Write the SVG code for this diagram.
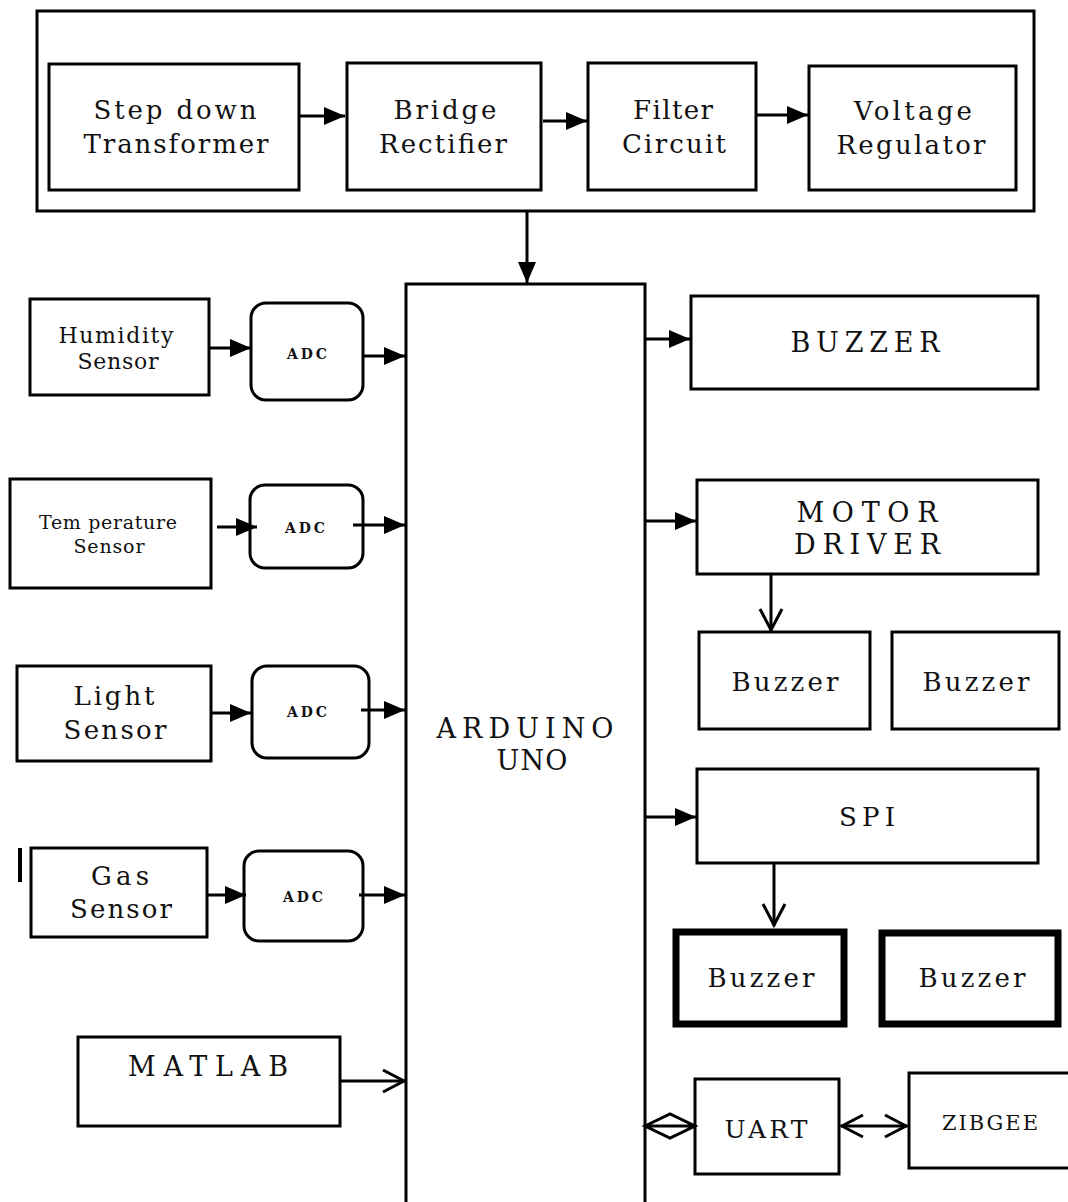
<svg xmlns="http://www.w3.org/2000/svg" width="1068" height="1202" viewBox="0 0 1068 1202">
<style>
.box{fill:#fff;stroke:#000;stroke-width:3}
.thick{fill:#fff;stroke:#000;stroke-width:7}
.t{font-family:"DejaVu Serif","Liberation Serif",serif;fill:#111;text-anchor:middle}
.adc{font-family:"DejaVu Serif","Liberation Serif",serif;font-weight:bold;font-size:14px;fill:#111;text-anchor:middle}
.ln{stroke:#000;stroke-width:3;fill:none}
</style>
<defs>
<marker id="tri" markerUnits="userSpaceOnUse" markerWidth="22" markerHeight="20" refX="21" refY="9" orient="auto"><path d="M0,0 L21,9 L0,18 z" fill="#000"/></marker>
<marker id="open" markerUnits="userSpaceOnUse" markerWidth="30" markerHeight="30" refX="24" refY="13" orient="auto-start-reverse"><path d="M2,2 L23,13 L2,24" fill="none" stroke="#000" stroke-width="3"/></marker>
</defs>

<g id="power-supply"><rect class="box" x="37" y="11" width="997" height="200"/></g>
<g id="step-down"><rect class="box" x="49" y="64" width="250" height="126"/><text class="t" font-size="26" x="175" y="119" textLength="163" lengthAdjust="spacing">Step down</text><text class="t" font-size="26" x="176" y="153" textLength="185" lengthAdjust="spacing">Transformer</text></g>
<g id="bridge"><rect class="box" x="347" y="63" width="194" height="127"/><text class="t" font-size="26" x="445" y="119" textLength="103" lengthAdjust="spacing">Bridge</text><text class="t" font-size="26" x="443" y="153" textLength="128" lengthAdjust="spacing">Rectifier</text></g>
<g id="filter"><rect class="box" x="588" y="63" width="168" height="127"/><text class="t" font-size="26" x="673" y="119" textLength="80" lengthAdjust="spacing">Filter</text><text class="t" font-size="26" x="674" y="153" textLength="104" lengthAdjust="spacing">Circuit</text></g>
<g id="regulator"><rect class="box" x="809" y="66" width="207" height="124"/><text class="t" font-size="26" x="913" y="120" textLength="118" lengthAdjust="spacing">Voltage</text><text class="t" font-size="26" x="911" y="154" textLength="149" lengthAdjust="spacing">Regulator</text></g>

<g id="arduino"><rect class="box" x="406" y="284" width="239" height="940"/><text class="t" font-size="27" x="525" y="738" textLength="177" lengthAdjust="spacing">ARDUINO</text><text class="t" font-size="27" x="532" y="770" textLength="71" lengthAdjust="spacing">UNO</text></g>

<g id="humidity"><rect class="box" x="30" y="299" width="179" height="96"/><text class="t" font-size="22" x="116" y="343" textLength="115" lengthAdjust="spacing">Humidity</text><text class="t" font-size="22" x="118" y="369" textLength="81" lengthAdjust="spacing">Sensor</text></g>
<g id="adc1"><rect class="box" x="251" y="303" width="112" height="97" rx="15"/><text class="adc" x="307" y="359" textLength="40" lengthAdjust="spacing">ADC</text></g>
<g id="temperature"><rect class="box" x="10" y="479" width="201" height="109"/><text class="t" font-size="19" x="108" y="529" textLength="138" lengthAdjust="spacing">Tem perature</text><text class="t" font-size="19" x="109" y="553" textLength="71" lengthAdjust="spacing">Sensor</text></g>
<g id="adc2"><rect class="box" x="250" y="485" width="113" height="83" rx="15"/><text class="adc" x="305" y="533" textLength="40" lengthAdjust="spacing">ADC</text></g>
<g id="light"><rect class="box" x="17" y="666" width="194" height="95"/><text class="t" font-size="26" x="114" y="705" textLength="81" lengthAdjust="spacing">Light</text><text class="t" font-size="26" x="115" y="739" textLength="103" lengthAdjust="spacing">Sensor</text></g>
<g id="adc3"><rect class="box" x="252" y="666" width="117" height="92" rx="15"/><text class="adc" x="307" y="717" textLength="40" lengthAdjust="spacing">ADC</text></g>
<g id="gas"><rect class="box" x="31" y="848" width="176" height="89"/><text class="t" font-size="26" x="120" y="885" textLength="58" lengthAdjust="spacing">Gas</text><text class="t" font-size="26" x="121" y="918" textLength="102" lengthAdjust="spacing">Sensor</text><line x1="20" y1="848" x2="20" y2="882" stroke="#000" stroke-width="4"/></g>
<g id="adc4"><rect class="box" x="244" y="851" width="119" height="90" rx="15"/><text class="adc" x="303" y="902" textLength="40" lengthAdjust="spacing">ADC</text></g>
<g id="matlab"><rect class="box" x="78" y="1037" width="262" height="89"/><text class="t" font-size="27" x="208" y="1076" textLength="160" lengthAdjust="spacing">MATLAB</text></g>

<g id="buzzer-main"><rect class="box" x="691" y="296" width="347" height="93"/><text class="t" font-size="27" x="865" y="352" textLength="149" lengthAdjust="spacing">BUZZER</text></g>
<g id="motor-driver"><rect class="box" x="697" y="480" width="341" height="94"/><text class="t" font-size="27" x="867" y="522" textLength="141" lengthAdjust="spacing">MOTOR</text><text class="t" font-size="27" x="867" y="554" textLength="146" lengthAdjust="spacing">DRIVER</text></g>
<g id="buzzer1"><rect class="box" x="699" y="632" width="171" height="97"/><text class="t" font-size="26" x="785" y="691" textLength="107" lengthAdjust="spacing">Buzzer</text></g>
<g id="buzzer2"><rect class="box" x="892" y="632" width="167" height="97"/><text class="t" font-size="26" x="976" y="691" textLength="107" lengthAdjust="spacing">Buzzer</text></g>
<g id="spi"><rect class="box" x="697" y="769" width="341" height="94"/><text class="t" font-size="26" x="867" y="826" textLength="56" lengthAdjust="spacing">SPI</text></g>
<g id="buzzer3"><rect class="thick" x="676" y="932" width="168" height="92"/><text class="t" font-size="26" x="761" y="987" textLength="107" lengthAdjust="spacing">Buzzer</text></g>
<g id="buzzer4"><rect class="thick" x="882" y="933" width="176" height="91"/><text class="t" font-size="26" x="972" y="987" textLength="107" lengthAdjust="spacing">Buzzer</text></g>
<g id="uart"><rect class="box" x="695" y="1079" width="144" height="95"/><text class="t" font-size="25" x="766" y="1138" textLength="83" lengthAdjust="spacing">UART</text></g>
<g id="zibgee"><rect class="box" x="909" y="1073" width="175" height="95"/><text class="t" font-size="21" x="990" y="1130" textLength="96" lengthAdjust="spacing">ZIBGEE</text></g>

<g id="connectors">
<line class="ln" x1="299" y1="116" x2="345" y2="116" marker-end="url(#tri)"/>
<line class="ln" x1="543" y1="121" x2="587" y2="121" marker-end="url(#tri)"/>
<line class="ln" x1="757" y1="115" x2="808" y2="115" marker-end="url(#tri)"/>
<line class="ln" x1="527" y1="212" x2="527" y2="283" marker-end="url(#tri)"/>
<line class="ln" x1="209" y1="348" x2="251" y2="348" marker-end="url(#tri)"/>
<line class="ln" x1="364" y1="356" x2="405" y2="356" marker-end="url(#tri)"/>
<line class="ln" x1="217" y1="527" x2="257" y2="527" marker-end="url(#tri)"/>
<line class="ln" x1="353" y1="525" x2="405" y2="525" marker-end="url(#tri)"/>
<line class="ln" x1="212" y1="713" x2="251" y2="713" marker-end="url(#tri)"/>
<line class="ln" x1="361" y1="710" x2="405" y2="710" marker-end="url(#tri)"/>
<line class="ln" x1="207" y1="895" x2="246" y2="895" marker-end="url(#tri)"/>
<line class="ln" x1="359" y1="895" x2="405" y2="895" marker-end="url(#tri)"/>
<line class="ln" x1="340" y1="1081" x2="405" y2="1081" marker-end="url(#open)"/>
<line class="ln" x1="645" y1="339" x2="690" y2="339" marker-end="url(#tri)"/>
<line class="ln" x1="645" y1="521" x2="696" y2="521" marker-end="url(#tri)"/>
<line class="ln" x1="645" y1="817" x2="696" y2="817" marker-end="url(#tri)"/>
<line class="ln" x1="771" y1="574" x2="771" y2="631" marker-end="url(#open)"/>
<line class="ln" x1="774" y1="864" x2="774" y2="926" marker-end="url(#open)"/>
<line class="ln" x1="841" y1="1126" x2="907" y2="1126" marker-start="url(#open)" marker-end="url(#open)"/>
<path class="ln" d="M645,1126 L670,1114 L695,1126 L670,1138 Z M645,1126 L695,1126"/>
</g>
</svg>
